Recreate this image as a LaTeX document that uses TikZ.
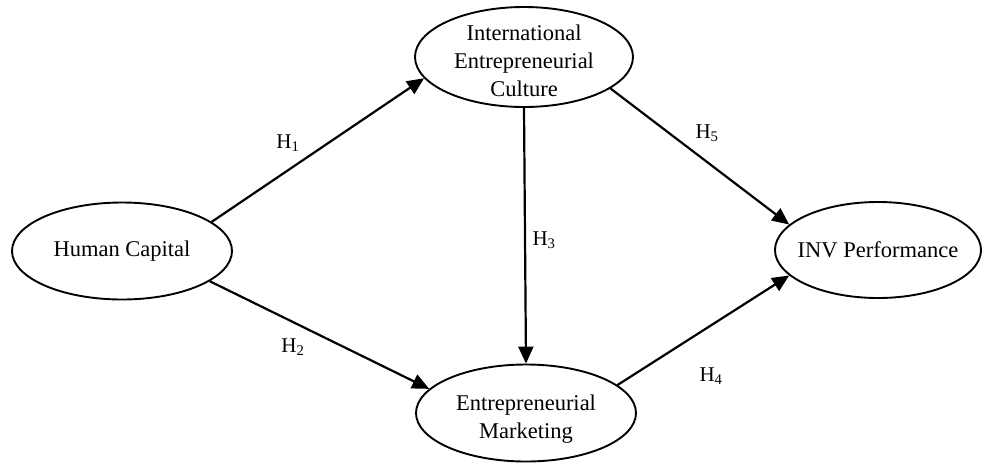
\documentclass[tikz,border=0pt]{standalone}
\usepackage{fontspec}
\setmainfont{Liberation Serif}
\usetikzlibrary{shapes.geometric,arrows.meta}

\begin{document}
\begin{tikzpicture}[x=1pt,y=-1pt,
    construct/.style={ellipse,draw,line width=1.9pt,inner sep=0pt},
    hyp/.style={-{Triangle[length=17pt,width=15pt]},line width=2.2pt},
    hlabel/.style={font=\fontsize{21}{24}\selectfont}]
      \useasboundingbox (0,0) rectangle (982,464);
      \tikzset{every label/.style={align=center,font=\fontsize{22.5}{28}\selectfont}}

      \node[construct,minimum width=220pt,minimum height=97pt,
            label={center:Human Capital}] (hc) at (122,251) {};
      \node[construct,minimum width=218pt,minimum height=100pt,
            label={[yshift=-4pt]center:International\\Entrepreneurial\\Culture}] (iec) at (524,57) {};
      \node[construct,minimum width=220pt,minimum height=97pt,
            label={[yshift=-6pt]center:Entrepreneurial\\Marketing}] (em) at (526,413) {};
      \node[construct,minimum width=206pt,minimum height=96pt,
            label={center:INV Performance}] (inv) at (878,250) {};

      \draw[hyp] (hc.18) -- (iec.192);
      \draw[hyp] (hc.-19) -- (em.166);
      \draw[hyp] (iec.270) -- (em.90);
      \draw[hyp] (em.17) -- (inv.196);
      \draw[hyp] (iec.-20) -- (inv.164);

      \node[hlabel] (h1) at (288,143) {H\textsubscript{1}};
      \node[hlabel] (h2) at (293,347) {H\textsubscript{2}};
      \node[hlabel] (h3) at (544,240) {H\textsubscript{3}};
      \node[hlabel] (h4) at (711,376) {H\textsubscript{4}};
      \node[hlabel] (h5) at (707,133) {H\textsubscript{5}};
    \end{tikzpicture}
\end{document}
